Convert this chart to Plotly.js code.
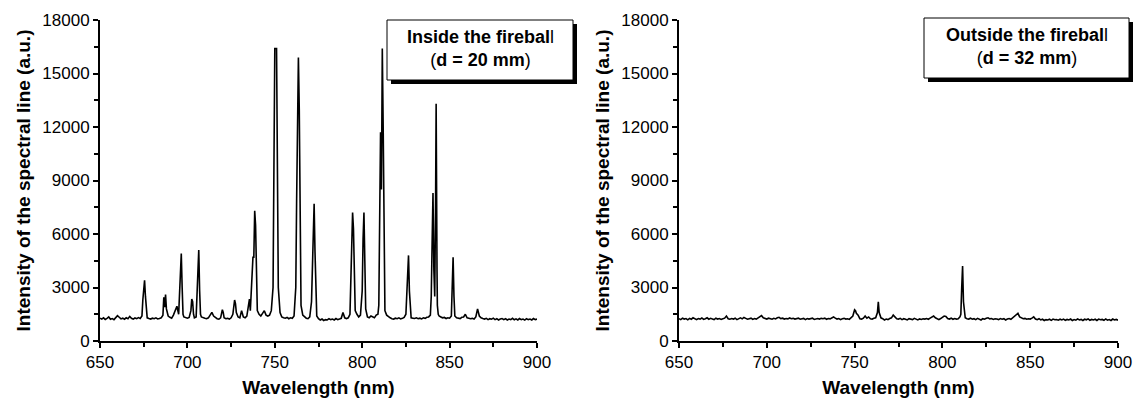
<!DOCTYPE html>
<html>
<head>
<meta charset="utf-8">
<script src="https://cdn.plot.ly/plotly-3.0.1.min.js"></script>
<style>html,body{margin:0;padding:0;background:#fff;}#chart{width:1137px;height:399px;}</style>
</head>
<body>
<div id="chart"></div>
<script>
// ---- Data: Inside the fireball (d = 20 mm) ----
const insideWavelength = [650,651,652,653,654,655,656,657,658,659,660,661,662,663,664,665,666,667,668,669,670,671,672,673,674,674.5,675,675.5,676,676.5,677,678,679,680,681,682,683,684,685,686,686.5,687,687.5,688,689,690,691,692,693,694,695,695.5,696,696.5,697,697.5,698,699,700,701,702,702.5,703,703.5,704,705,705.5,706,706.5,707,707.5,708,709,710,711,712,713,714,715,716,717,718,719,720,720.5,721,722,723,724,725,726,727,727.5,728,729,730,731,732,733,734,735,735.5,736,736.5,737,737.5,738,738.5,739,739.5,740,741,742,743,744,745,746,747,748,749,749.5,750,751,751.5,752,753,754,755,756,757,758,759,760,761,762,762.5,763,763.5,764,764.5,765,766,767,768,769,770,771,771.5,772,772.5,773,773.5,774,775,776,777,778,779,780,781,782,783,784,785,786,787,788,789,790,791,792,793,793.5,794,794.5,795,795.5,796,797,798,799,800,800.5,801,801.5,802,803,804,805,806,807,808,809,809.5,810,810.5,811,811.5,812,812.5,813,814,815,816,817,818,819,820,821,822,823,824,825,825.5,826,826.5,827,827.5,828,829,830,831,832,833,834,835,836,837,838,839,839.5,840,840.5,841,841.5,842,842.3,842.8,843,843.5,844,845,846,847,848,849,850,851,851.5,852,852.5,853,854,855,856,857,858,859,860,861,862,863,864,865,866,867,868,869,870,871,872,873,874,875,876,877,878,879,880,881,882,883,884,885,886,887,888,889,890,891,892,893,894,895,896,897,898,899,900];
const insideIntensity = [1280,1230,1300,1210,1270,1350,1220,1260,1200,1290,1420,1330,1240,1280,1220,1300,1250,1380,1270,1230,1290,1250,1310,1260,1400,2300,2750,3400,2500,1500,1300,1260,1230,1280,1250,1300,1240,1260,1300,1450,2450,1900,2600,1800,1400,1330,1280,1450,1700,1950,1500,2600,4000,4900,3000,1500,1350,1300,1280,1320,1700,2350,2200,1500,1300,1350,2500,4000,5100,2800,1500,1350,1300,1280,1250,1300,1450,1600,1400,1300,1250,1230,1300,1750,1600,1300,1250,1270,1230,1300,1500,2300,2100,1600,1350,1300,1700,1350,1300,1400,2200,2350,1700,2500,3800,4700,4700,7300,6500,3500,1700,1500,1400,1550,1700,1450,1400,1450,1700,3000,9000,16400,16400,9000,3000,1600,1350,1300,1280,1320,1250,1300,1270,1400,3000,8000,14000,15900,13000,5000,2000,1450,1350,1280,1250,1350,2200,4500,6900,7700,5000,2000,1400,1250,1180,1230,1150,1200,1180,1250,1200,1230,1180,1260,1200,1230,1270,1600,1300,1250,1300,1500,3500,6500,7200,6300,3000,1700,1500,1350,1450,2800,5700,7200,4500,1800,1350,1300,1400,1350,1300,1450,1500,2000,6000,11700,8500,16400,12000,4000,1700,1450,1350,1300,1250,1230,1280,1250,1300,1240,1270,1320,1500,2500,4000,4800,2800,1500,1300,1280,1260,1300,1250,1280,1240,1300,1270,1330,1350,1450,2500,5500,8300,4000,2500,8000,13300,4000,2000,1500,1400,1350,1300,1320,1260,1300,1280,1400,3000,4700,2500,1400,1300,1280,1260,1330,1350,1500,1300,1280,1250,1270,1230,1350,1800,1400,1300,1260,1230,1270,1200,1250,1220,1280,1200,1250,1180,1230,1260,1200,1250,1180,1230,1200,1270,1190,1240,1180,1260,1200,1230,1170,1250,1200,1230,1180,1260,1200,1230];

// ---- Data: Outside the fireball (d = 32 mm) ----
const outsideWavelength = [650,651,652,653,654,655,656,657,658,659,660,661,662,663,664,665,666,667,668,669,670,671,672,673,674,675,676,677,678,679,680,681,682,683,684,685,686,687,688,689,690,691,692,693,694,695,696,697,698,699,700,701,702,703,704,705,706,707,708,709,710,711,712,713,714,715,716,717,718,719,720,721,722,723,724,725,726,727,728,729,730,731,732,733,734,735,736,737,738,739,740,741,742,743,744,745,746,747,748,749,750,750.5,751,752,753,754,755,756,757,758,759,760,761,762,763,763.5,764,765,766,767,768,769,770,771,772,773,774,775,776,777,778,779,780,781,782,783,784,785,786,787,788,789,790,791,792,793,794,795,796,797,798,799,800,801,802,803,804,805,806,807,808,809,810,810.5,811,811.5,812,812.5,813,814,815,816,817,818,819,820,821,822,823,824,825,826,827,828,829,830,831,832,833,834,835,836,837,838,839,840,841,842,843,844,845,846,847,848,849,850,851,852,853,854,855,856,857,858,859,860,861,862,863,864,865,866,867,868,869,870,871,872,873,874,875,876,877,878,879,880,881,882,883,884,885,886,887,888,889,890,891,892,893,894,895,896,897,898,899,900];
const outsideIntensity = [1250,1200,1280,1230,1260,1190,1270,1220,1300,1240,1200,1260,1230,1290,1210,1250,1300,1220,1270,1240,1200,1280,1230,1260,1210,1250,1280,1400,1250,1220,1260,1230,1280,1200,1250,1300,1240,1320,1270,1220,1250,1280,1210,1260,1230,1290,1350,1420,1300,1260,1230,1280,1250,1220,1270,1240,1300,1330,1260,1280,1230,1260,1240,1290,1250,1270,1230,1260,1280,1220,1250,1270,1200,1260,1230,1250,1280,1210,1250,1260,1230,1270,1250,1280,1220,1260,1240,1300,1350,1280,1230,1260,1200,1250,1270,1230,1250,1210,1280,1400,1750,1700,1550,1450,1250,1230,1280,1400,1280,1350,1250,1230,1270,1300,1600,2200,1600,1300,1250,1180,1230,1200,1260,1300,1450,1350,1250,1230,1270,1200,1250,1220,1180,1250,1230,1200,1270,1220,1180,1240,1210,1250,1230,1260,1220,1280,1330,1400,1300,1250,1200,1260,1350,1400,1380,1260,1230,1280,1220,1260,1230,1250,1350,1500,3000,4200,2200,1500,1300,1250,1230,1280,1220,1250,1200,1270,1230,1180,1250,1220,1270,1300,1240,1260,1210,1250,1230,1200,1260,1220,1250,1180,1230,1260,1220,1300,1350,1450,1550,1350,1300,1250,1270,1220,1250,1230,1280,1350,1230,1200,1250,1180,1220,1150,1200,1180,1220,1160,1230,1190,1200,1170,1220,1180,1230,1160,1210,1180,1230,1150,1200,1170,1240,1180,1210,1150,1220,1190,1240,1160,1210,1180,1220,1150,1230,1190,1210,1160,1240,1170,1200,1150,1230,1180,1210,1170];

// ---- Labels ----
const xTitle = 'Wavelength (nm)';
const yTitle = 'Intensity of the spectral line (a.u.)';
const panelLabels = ['<b>Inside the firebal</b>l<br>(<b>d = 20 mm</b>)', '<b>Outside the firebal</b>l<br>(<b>d = 32 mm</b>)'];

// ---- Geometry (pixels) ----
const W = 1137, H = 399;
const px = v => v / W, py = v => 1 - v / H;
const FONT = 'Liberation Sans, Arial, Helvetica, sans-serif';

const traceStyle = {type: 'scatter', mode: 'lines', line: {color: '#000', width: 1.6}, showlegend: false, hoverinfo: 'skip'};
const traces = [
  Object.assign({x: insideWavelength, y: insideIntensity, xaxis: 'x', yaxis: 'y'}, traceStyle),
  Object.assign({x: outsideWavelength, y: outsideIntensity, xaxis: 'x2', yaxis: 'y2'}, traceStyle)
];

function xAxis(domain, anchor) {
  return {
    domain: domain, anchor: anchor, range: [650, 900], dtick: 50, tick0: 650,
    showline: true, linewidth: 2, linecolor: '#000', showgrid: false, zeroline: false,
    ticks: 'outside', ticklen: 5, tickwidth: 2, tickcolor: '#000',
    minor: {ticks: 'outside', ticklen: 4, tickwidth: 2, tickcolor: '#000', dtick: 25, showgrid: false},
    tickfont: {family: FONT, size: 17, color: '#000'},
    title: {text: '<b>' + xTitle + '</b>', font: {family: FONT, size: 19, color: '#000'}, standoff: 9},
    automargin: false, fixedrange: true
  };
}
function yAxis(domain, anchor) {
  return {
    domain: domain, anchor: anchor, range: [0, 18000], dtick: 3000, tick0: 0, tickformat: 'd',
    showline: true, linewidth: 2, linecolor: '#000', showgrid: false, zeroline: false,
    ticks: 'outside', ticklen: 5, tickwidth: 2, tickcolor: '#000',
    minor: {ticks: 'outside', ticklen: 4, tickwidth: 2, tickcolor: '#000', dtick: 1500, showgrid: false},
    tickfont: {family: FONT, size: 17, color: '#000'},
    title: {text: '<b>' + yTitle + '</b>', font: {family: FONT, size: 19, color: '#000'}, standoff: 7},
    automargin: false, fixedrange: true
  };
}

const yDom = [py(341), py(20)];
const boxes = [
  {x0: 387, x1: 573, y0: 20, y1: 80},
  {x0: 924, x1: 1129, y0: 18, y1: 78}
];
const shapes = [];
const annotations = [];
boxes.forEach((b, i) => {
  shapes.push({type: 'rect', xref: 'paper', yref: 'paper', x0: px(b.x0 + 4), x1: px(b.x1 + 4), y0: py(b.y1 + 4), y1: py(b.y0 + 4), fillcolor: '#000', line: {width: 0}, layer: 'above'});
  shapes.push({type: 'rect', xref: 'paper', yref: 'paper', x0: px(b.x0), x1: px(b.x1), y0: py(b.y1), y1: py(b.y0), fillcolor: '#fff', line: {color: '#000', width: 1}, layer: 'above'});
  annotations.push({xref: 'paper', yref: 'paper', x: px((b.x0 + b.x1) / 2), y: py((b.y0 + b.y1) / 2 - 2), xanchor: 'center', yanchor: 'middle', showarrow: false, align: 'center', text: panelLabels[i], font: {family: FONT, size: 18, color: '#000'}});
});

const layout = {
  width: W, height: H, margin: {l: 0, r: 0, t: 0, b: 0},
  paper_bgcolor: '#fff', plot_bgcolor: '#fff',
  xaxis: xAxis([px(100), px(537)], 'y'),
  yaxis: yAxis(yDom, 'x'),
  xaxis2: xAxis([px(679), px(1118)], 'y2'),
  yaxis2: yAxis(yDom, 'x2'),
  shapes: shapes, annotations: annotations, showlegend: false
};
Plotly.newPlot('chart', traces, layout, {displayModeBar: false, staticPlot: true});
</script>
</body>
</html>
